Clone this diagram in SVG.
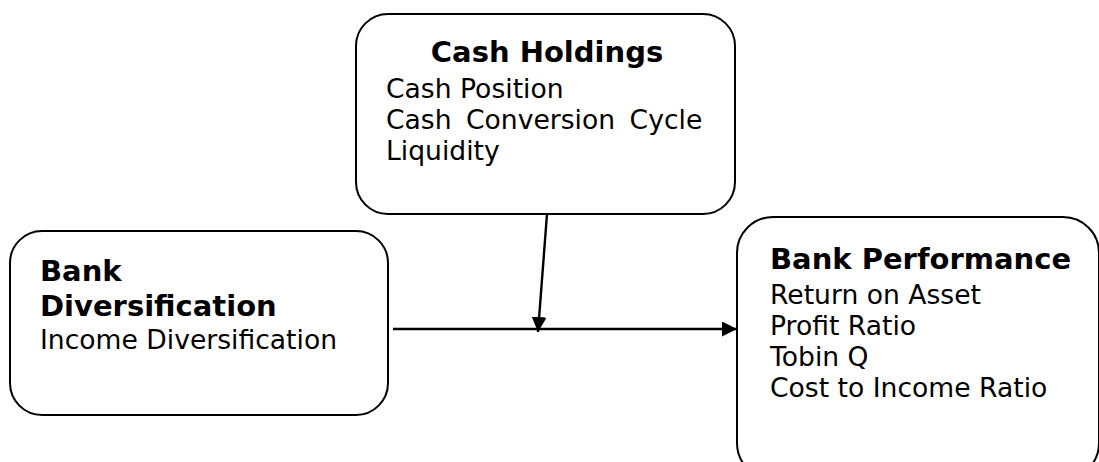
<svg xmlns="http://www.w3.org/2000/svg" width="1099" height="462" viewBox="0 0 1099 462">
<style>
.box{fill:#fff;stroke:#000;stroke-width:2}
.t{font-family:"DejaVu Sans",Verdana,sans-serif;font-size:26.6px;fill:#000}
.b{font-family:"DejaVu Sans",Verdana,sans-serif;font-size:29px;font-weight:bold;fill:#000}
.c{stroke:#000;stroke-width:2.4;fill:none}
</style>
<defs>
<marker id="ah" markerWidth="15" markerHeight="15" refX="15" refY="7.5" orient="auto" markerUnits="userSpaceOnUse">
<path d="M0,0 L15,7.5 L0,15 Z" fill="#000"/>
</marker>
</defs>
<g id="cash-holdings">
<rect class="box" x="356" y="14" width="379" height="200" rx="32"/>
<text class="b" x="547" y="62" text-anchor="middle">Cash Holdings</text>
<text class="t" x="386" y="98">Cash Position</text>
<text class="t" x="386" y="129" word-spacing="6">Cash Conversion Cycle</text>
<text class="t" x="386" y="160">Liquidity</text>
</g>
<g id="bank-diversification">
<rect class="box" x="10" y="231" width="378" height="184" rx="32"/>
<text class="b" x="40" y="281">Bank</text>
<text class="b" x="40" y="316">Diversification</text>
<text class="t" x="40" y="349">Income Diversification</text>
</g>
<g id="bank-performance">
<rect class="box" x="737" y="217" width="362" height="262" rx="36"/>
<text class="b" x="770" y="269">Bank Performance</text>
<text class="t" x="770" y="304">Return on Asset</text>
<text class="t" x="770" y="335">Profit Ratio</text>
<text class="t" x="770" y="366">Tobin Q</text>
<text class="t" x="770" y="397">Cost to Income Ratio</text>
</g>
<g id="connectors">
<line class="c" x1="393" y1="329" x2="737" y2="329" marker-end="url(#ah)"/>
<line class="c" x1="547" y1="214" x2="538" y2="332" marker-end="url(#ah)"/>
</g>
</svg>
